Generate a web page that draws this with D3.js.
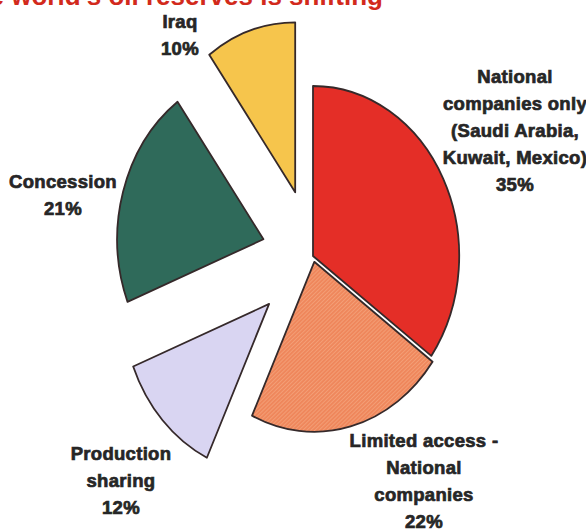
<!DOCTYPE html>
<html>
<head>
<meta charset="utf-8">
<script src="https://cdn.jsdelivr.net/npm/d3@7"></script>
<style>
  html, body { margin: 0; padding: 0; background: #ffffff; }
  svg { display: block; }
</style>
</head>
<body>
<svg id="chart" width="586" height="530"></svg>
<script>
// Share of world oil reserves by access regime
const categories = [
  "National companies only (Saudi Arabia, Kuwait, Mexico)",
  "Limited access - National companies",
  "Production sharing",
  "Concession",
  "Iraq"
];
const shares = [35, 22, 12, 21, 10];
const labelLines = [
  ["National", "companies only", "(Saudi Arabia,", "Kuwait, Mexico)"],
  ["Limited access -", "National", "companies"],
  ["Production", "sharing"],
  ["Concession"],
  ["Iraq"]
];
const titleText = "Control of the world's oil reserves is shifting";

// Styling / layout
const colors = ["#e42e27", "url(#hatch)", "#d9d5f2", "#2f6a5a", "#f6c54c"];
const explode = [0, 6, 70, 60, 67];          // pull-out distance per slice
const labelPos = [[515, 83], [424, 447], [121, 460], [63, 188], [180, 28]];
const lineH = 27;
const cx = 313, cy = 256, R = 170, sx = 0.86;

const svg = d3.select("#chart");

// hatched fill for the limited-access slice
const defs = svg.append("defs");
const pat = defs.append("pattern")
  .attr("id", "hatch").attr("patternUnits", "userSpaceOnUse")
  .attr("width", 3).attr("height", 3)
  .attr("patternTransform", "rotate(-40)");
pat.append("rect").attr("width", 3).attr("height", 3).attr("fill", "#ef875c");
pat.append("line").attr("x1", 0).attr("y1", 0).attr("x2", 3).attr("y2", 0)
  .attr("stroke", "#f7ad88").attr("stroke-width", 1.2);

// heading, mostly above the top edge
svg.append("text")
  .attr("x", 383).attr("y", 5)
  .attr("text-anchor", "end")
  .attr("font-family", "Liberation Sans, Arial, sans-serif")
  .attr("font-weight", "bold")
  .attr("font-size", 26)
  .attr("fill", "#d22a1c")
  .text(titleText);

const pie = d3.pie().sort(null).value(d => d);
const arc = d3.arc().innerRadius(0).outerRadius(R);
const arcs = pie(shares);

const pieG = svg.append("g")
  .attr("transform", `translate(${cx},${cy}) scale(${sx},1)`);

pieG.selectAll("path")
  .data(arcs)
  .join("path")
  .attr("transform", (d, i) => {
    const mid = (d.startAngle + d.endAngle) / 2;
    return `translate(${Math.sin(mid) * explode[i]},${-Math.cos(mid) * explode[i]})`;
  })
  .attr("d", arc)
  .attr("fill", (d, i) => colors[i])
  .attr("stroke", "#35292a")
  .attr("stroke-width", 1.8)
  .attr("stroke-linejoin", "round")
  .attr("vector-effect", "non-scaling-stroke");

// labels
const labelG = svg.append("g")
  .attr("font-family", "Liberation Sans, Arial, sans-serif")
  .attr("font-weight", "bold")
  .attr("font-size", 18.5)
  .attr("letter-spacing", 0.3)
  .attr("fill", "#262626")
  .attr("stroke", "#262626")
  .attr("stroke-width", 0.7)
  .attr("text-anchor", "middle");

labelLines.forEach((lines, i) => {
  const [x, y] = labelPos[i];
  const t = labelG.append("text").attr("x", x).attr("y", y);
  lines.concat([`${shares[i]}%`]).forEach((ln, k) => {
    t.append("tspan").attr("x", x).attr("y", y + k * lineH).text(ln);
  });
});
</script>
</body>
</html>
